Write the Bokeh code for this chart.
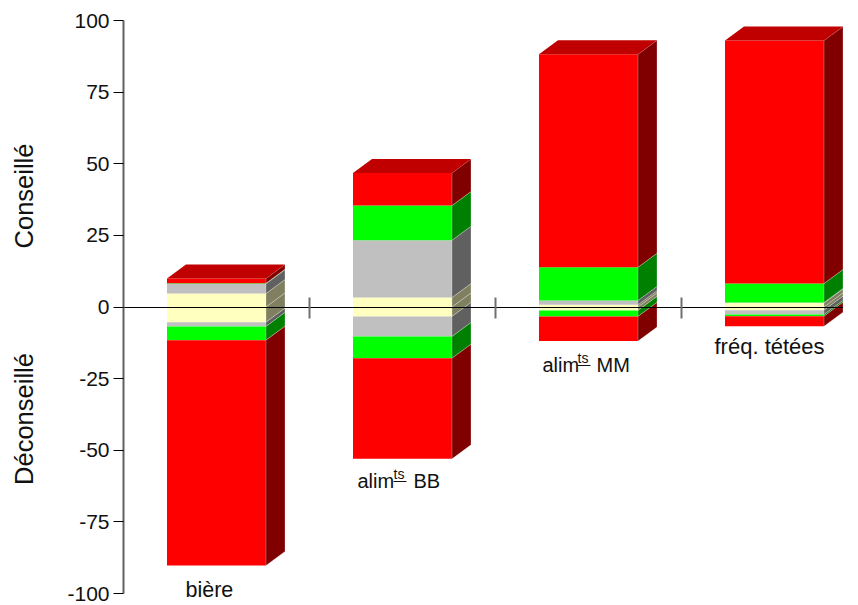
import math
from bokeh.embed import file_html
from bokeh.models import FixedTicker, Label, LinearAxis
from bokeh.plotting import figure
from bokeh.resources import INLINE

# ---------- data (band heights, innermost band first) ----------
categories = ["bière", "alim", "alim", "fréq. tétées"]
y_ticks = [-100, -75, -50, -25, 0, 25, 50, 75, 100]

cream_pos = [4.7, 3.3, 0.8, 1.4]
grey_pos = [3.4, 20.0, 1.5, 0.2]
green_pos = [0.2, 12.1, 11.6, 6.6]
red_pos = [1.65, 11.4, 74.3, 84.8]

cream_neg = [5.3, 3.3, 1.2, 1.1]
grey_neg = [1.5, 7.0, 0.0, 1.5]
green_neg = [4.8, 7.6, 2.1, 0.6]
red_neg = [78.6, 35.1, 8.6, 3.5]

# ---------- styles ----------
FONT = "Liberation Sans"
INK = "#111111"
RED, GREEN, GREY, CREAM = "#FF0000", "#00FF00", "#C0C0C0", "#FFFFC0"
SIDE = {RED: "#800000", GREEN: "#008000", GREY: "#606060", CREAM: "#808060"}
TOP = "#C00000"

PX_X = 186.0          # pixels per category
PX_Y = 573.0 / 200.0  # pixels per unit
BAR_W = 99 / PX_X
DX = 19 / PX_X
DY = 14 / PX_Y
BASE_SHIFT = 0.40     # Label alphabetic baseline sits this many ems lower than asked
X_END = 720 / PX_X

p = figure(
    width=843, height=605,
    x_range=(-123 / PX_X, X_END), y_range=(-100 - 12 / PX_Y, 100 + 20 / PX_Y),
    x_axis_location=None, y_axis_location=None,
    toolbar_location=None, output_backend="svg",
    min_border_left=0, min_border_right=0, min_border_top=0, min_border_bottom=0,
)
p.outline_line_color = None
p.grid.visible = False
p.background_fill_color = "white"
p.border_fill_color = "white"

# ---------- bars ----------
def draw(stack_bands, sign):
    for i in range(len(categories)):
        base = 0.0
        x0 = i + 0.5 - BAR_W / 2
        x1 = x0 + BAR_W
        for values, color in stack_bands:
            h = values[i]
            if h <= 0:
                continue
            top = base + sign * h
            p.quad(left=[x0], right=[x1], bottom=[min(base, top)], top=[max(base, top)],
                   fill_color=color, line_color=None)
            p.patches(
                xs=[[x1, x1 + DX, x1 + DX, x1]],
                ys=[[base, base + DY, top + DY, top]],
                fill_color=SIDE[color], line_color="#FFFFFF", line_alpha=0.25, line_width=1,
            )
            base = top
        if sign > 0:
            p.patches(
                xs=[[x0, x1, x1 + DX, x0 + DX]],
                ys=[[base, base, base + DY, base + DY]],
                fill_color=TOP, line_color=None,
            )


draw([(cream_pos, CREAM), (grey_pos, GREY), (green_pos, GREEN), (red_pos, RED)], 1)
draw([(cream_neg, CREAM), (grey_neg, GREY), (green_neg, GREEN), (red_neg, RED)], -1)

# ---------- y axis ----------
ya = LinearAxis(fixed_location=0, bounds=(-100, 100))
ya.ticker = FixedTicker(ticks=y_ticks)
ya.major_label_overrides = {t: str(t) for t in y_ticks}
ya.minor_tick_line_color = None
ya.major_tick_in = 0
ya.major_tick_out = 10
ya.major_tick_line_color = "#000000"
ya.major_tick_line_width = 1
ya.axis_line_color = "#606060"
ya.axis_line_width = 2
ya.major_label_standoff = 4
ya.major_label_text_font = FONT
ya.major_label_text_font_size = "21px"
ya.major_label_text_color = INK
p.add_layout(ya, "left")

# ---------- zero axis with category separators ----------
xa = LinearAxis(fixed_location=0, bounds=(0, X_END))
xa.ticker = FixedTicker(ticks=[1, 2, 3])
xa.major_label_overrides = {1: "", 2: "", 3: ""}
xa.major_label_text_font_size = "0px"
xa.minor_tick_line_color = None
xa.major_tick_in = 10
xa.major_tick_out = 11
xa.major_tick_line_color = "#707070"
xa.major_tick_line_width = 2
xa.axis_line_color = "#000000"
xa.axis_line_width = 1
p.add_layout(xa, "below")

# ---------- texts ----------
def to_x(px):
    return (px - 123) / PX_X


def to_y(py):
    return (306.5 - py) / PX_Y


def text(s, px, py, size):
    p.add_layout(Label(x=to_x(px), y=to_y(py - BASE_SHIFT * size), text=s, text_font=FONT,
                       text_font_size=f"{size}px", text_color=INK,
                       text_align="left", text_baseline="alphabetic"))


text(categories[0], 185, 598, 21.5)
text(categories[3], 714, 355, 22)

for alim_x, ts_x, tail_x, base_y, tail in [(357, 393, 413, 488, "BB"), (542, 577, 596, 372, "MM")]:
    text("alim", alim_x, base_y, 20)
    text("ts", ts_x, base_y - 8.5, 14)
    text(tail, tail_x, base_y, 20)
    p.segment(x0=[to_x(ts_x)], x1=[to_x(ts_x + 13)], y0=[to_y(base_y - 7)], y1=[to_y(base_y - 7)],
              line_color=INK, line_width=1)

for s, py in [("Conseillé", 195.5), ("Déconseillé", 418.5)]:
    p.add_layout(Label(x=to_x(34 - BASE_SHIFT * 25.5), y=to_y(py), text=s,
                       angle=math.pi / 2, text_font=FONT, text_font_size="25.5px",
                       text_color=INK, text_align="center", text_baseline="alphabetic"))

open("out.html", "w").write(file_html(p, INLINE))
